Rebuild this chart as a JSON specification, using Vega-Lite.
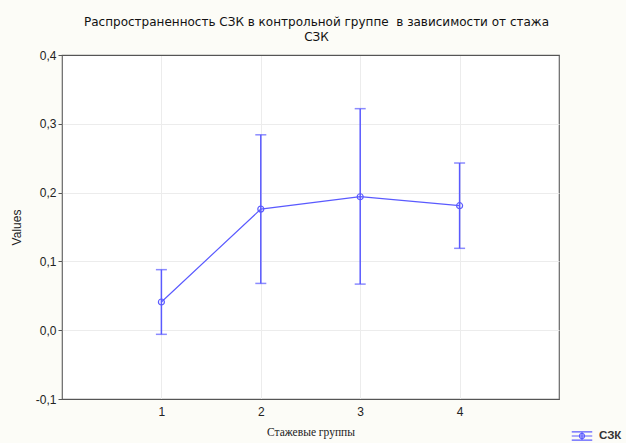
{
  "$schema": "https://vega.github.io/schema/vega-lite/v6.json",
  "autosize": {"type": "none"},
  "width": 497,
  "height": 344,
  "padding": {"left": 62, "top": 55, "right": 67, "bottom": 44},
  "background": "#fcfcf7",
  "config": {
    "view": {"fill": "white", "stroke": "#666666", "strokeWidth": 1.2},
    "font": "Liberation Sans",
    "axis": {"gridColor": "#ececec", "gridWidth": 1, "domain": false, "labelFont": "Liberation Sans", "labelFontSize": 12, "labelColor": "#222222", "tickColor": "#555555"}
  },
  "title": {
    "text": ["Распространенность СЗК в контрольной группе\u00a0 в зависимости от стажа", "СЗК"],
    "font": "DejaVu Sans",
    "fontSize": 12,
    "fontWeight": "normal",
    "color": "#111111",
    "lineHeight": 15,
    "anchor": "middle",
    "dx": 6,
    "offset": 5
  },
  "data": {
    "values": [
      {"group": 1, "mean": 0.041, "lo": -0.006, "hi": 0.088, "series": "СЗК"},
      {"group": 2, "mean": 0.176, "lo": 0.068, "hi": 0.284, "series": "СЗК"},
      {"group": 3, "mean": 0.194, "lo": 0.067, "hi": 0.322, "series": "СЗК"},
      {"group": 4, "mean": 0.181, "lo": 0.119, "hi": 0.243, "series": "СЗК"}
    ]
  },
  "encoding": {
    "x": {
      "field": "group", "type": "quantitative",
      "scale": {"domain": [0, 5], "nice": false, "zero": false},
      "axis": {"values": [1, 2, 3, 4], "title": "Стажевые группы", "titleFont": "Liberation Serif", "titleFontSize": 11.5, "titleFontWeight": "normal", "titleColor": "#222222", "titlePadding": 9, "tickSize": 0, "labelPadding": 7, "format": "d"}
    }
  },
  "layer": [
    {
      "mark": {"type": "rule", "color": "#5a5aff", "strokeWidth": 1.5},
      "encoding": {
        "y": {"field": "lo", "type": "quantitative"},
        "y2": {"field": "hi"}
      }
    },
    {
      "mark": {"type": "tick", "orient": "horizontal", "color": "#5a5aff", "size": 11, "thickness": 1.5},
      "encoding": {"y": {"field": "hi", "type": "quantitative"}}
    },
    {
      "mark": {"type": "tick", "orient": "horizontal", "color": "#5a5aff", "size": 11, "thickness": 1.5},
      "encoding": {"y": {"field": "lo", "type": "quantitative"}}
    },
    {
      "mark": {"type": "line", "strokeWidth": 1.2},
      "encoding": {
        "y": {
          "field": "mean", "type": "quantitative",
          "scale": {"domain": [-0.1, 0.4], "nice": false, "zero": false},
          "axis": {
            "values": [-0.1, 0, 0.1, 0.2, 0.3, 0.4],
            "title": "Values", "titleFont": "Liberation Sans", "titleFontSize": 12, "titleFontWeight": "normal", "titleColor": "#222222", "titlePadding": 12,
            "tickSize": 4, "labelPadding": 2,
            "gridColor": {"condition": {"test": "datum.value <= -0.099 || datum.value >= 0.399", "value": "#555555"}, "value": "#ececec"},
            "labelExpr": "replace(replace(format(datum.value, '.1f'), '.', ','), '−', '-')"
          }
        },
        "color": {
          "field": "series", "type": "nominal",
          "scale": {"range": ["#5a5aff"]},
          "legend": {
            "title": null,
            "orient": "none",
            "legendX": 509,
            "legendY": 370,
            "symbolType": "M-1,0H1M-1,-0.4H1M-1,0.4H1M0,-0.4V0.4M0.25,0A0.25,0.25 0 1 1 -0.25,0A0.25,0.25 0 1 1 0.25,0",
            "symbolSize": 420,
            "symbolStrokeWidth": 1.2,
            "symbolFillColor": "transparent",
            "labelFont": "Liberation Sans",
            "labelFontSize": 11.5,
            "labelFontWeight": "bold",
            "labelColor": "#333333",
            "labelOffset": 6
          }
        }
      }
    },
    {
      "mark": {"type": "point", "shape": "circle", "filled": false, "size": 36, "strokeWidth": 1.2, "color": "#5a5aff", "fill": "white", "fillOpacity": 0, "opacity": 1},
      "encoding": {"y": {"field": "mean", "type": "quantitative"}}
    }
  ]
}
